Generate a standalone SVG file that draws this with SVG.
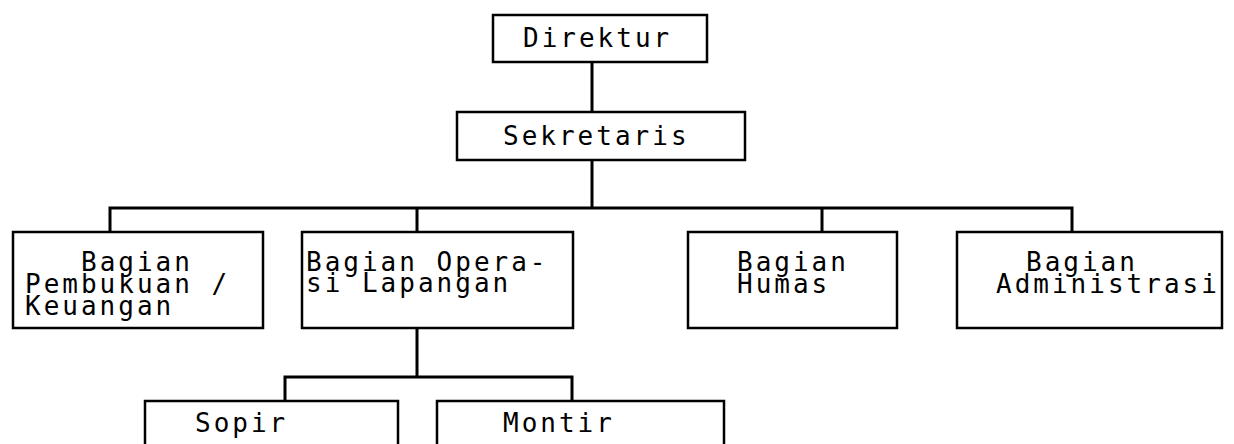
<svg xmlns="http://www.w3.org/2000/svg" width="1234" height="444" viewBox="0 0 1234 444">
<style>
.box{fill:#fff;stroke:#000;stroke-width:2.5}
.ln{fill:none;stroke:#000;stroke-width:3;stroke-linecap:square}
text{font-family:"DejaVu Sans Mono","Liberation Mono",monospace;font-size:26px;letter-spacing:3px;fill:#000}
</style>
<rect width="1234" height="444" fill="#fff"/>
<g id="connectors">
<path class="ln" d="M592 62V112M592 160V208M110 208H1072M110 208V232M417 208V232M822 208V232M1072 208V232"/>
<path class="ln" d="M417 328V377M285 377H572M285 377V401M572 377V401"/>
</g>
<g id="direktur"><rect class="box" x="493" y="15" width="214" height="47"/><text x="523" y="47">Direktur</text></g>
<g id="sekretaris"><rect class="box" x="457" y="112" width="288" height="48"/><text x="503" y="145">Sekretaris</text></g>
<g id="pembukuan"><rect class="box" x="13" y="232" width="250" height="96"/>
<text x="81" y="271">Bagian</text><text x="25" y="293">Pembukuan /</text><text x="25" y="315">Keuangan</text></g>
<g id="operasi"><rect class="box" x="302" y="232" width="271" height="96"/>
<text x="306" y="271">Bagian Opera-</text><text x="306" y="292">si Lapangan</text></g>
<g id="humas"><rect class="box" x="688" y="232" width="209" height="96"/>
<text x="737" y="271">Bagian</text><text x="737" y="293">Humas</text></g>
<g id="administrasi"><rect class="box" x="957" y="232" width="265" height="96"/>
<text x="1026" y="271">Bagian</text><text x="996" y="293">Administrasi</text></g>
<g id="sopir"><rect class="box" x="145" y="401" width="253" height="60"/><text x="195" y="432">Sopir</text></g>
<g id="montir"><rect class="box" x="437" y="401" width="287" height="60"/><text x="503" y="432">Montir</text></g>
</svg>
